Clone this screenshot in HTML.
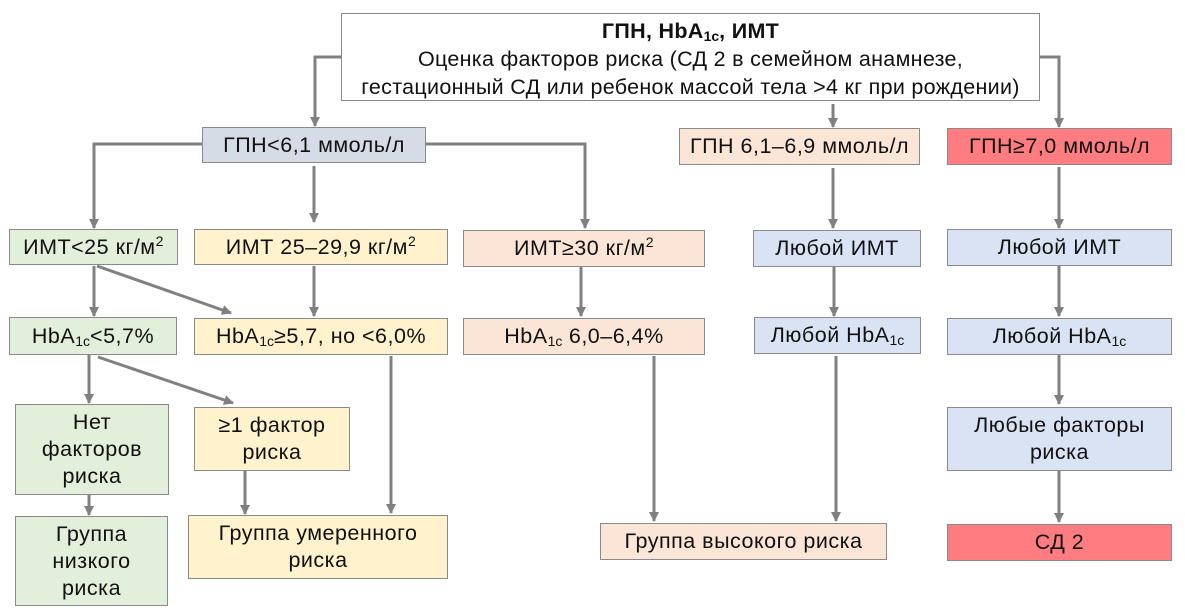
<!DOCTYPE html>
<html><head><meta charset="utf-8">
<style>
body{margin:0;width:1185px;height:612px;background:#fff;position:relative;overflow:hidden;font-family:"Liberation Sans",Arial,sans-serif;color:#111;}
.b{position:absolute;box-sizing:border-box;border:1.5px solid #8a8a8a;display:flex;align-items:center;justify-content:center;text-align:center;font-size:21.5px;line-height:27px;letter-spacing:0.5px;white-space:nowrap;}
sub{font-size:14px;vertical-align:-3px;line-height:0;letter-spacing:0;}
sup{font-size:14px;vertical-align:8px;line-height:0;}
.gr{background:#e2efda}.ye{background:#fff2cc}.pe{background:#fbe5d6}.bl{background:#dae3f3}.rd{background:#ff7c80}.gb{background:#d6dce5}
svg{position:absolute;left:0;top:0}
</style></head><body>
<svg width="1185" height="612">
<defs>
<marker id="h" viewBox="0 0 10 10" markerWidth="12" markerHeight="10" refX="9" refY="5" orient="auto" markerUnits="userSpaceOnUse"><path d="M0,0 L10,5 L0,10 z" fill="#808080"/></marker></defs>
<g stroke="#808080" stroke-width="3" fill="none" marker-end="url(#h)">
<polyline points="341,57 315,57 315,126"/>
<polyline points="1040,57 1059,57 1059,127"/>
<line x1="833" y1="104" x2="833" y2="127"/>
<polyline points="202,144 94,144 94,228"/>
<line x1="314" y1="166" x2="314" y2="222"/>
<polyline points="425,144 585,144 585,228"/>
<line x1="833" y1="168" x2="833" y2="228"/>
<line x1="1059" y1="167" x2="1059" y2="228"/>
<line x1="94" y1="266" x2="94" y2="316"/>
<line x1="97" y1="266" x2="231" y2="313"/>
<line x1="314" y1="266" x2="314" y2="316"/>
<line x1="581" y1="267" x2="581" y2="316"/>
<line x1="834" y1="266" x2="834" y2="316"/>
<line x1="1059" y1="266" x2="1059" y2="316"/>
<line x1="89" y1="355" x2="89" y2="403"/>
<line x1="98" y1="357" x2="233" y2="403"/>
<line x1="391" y1="356" x2="391" y2="513"/>
<line x1="89" y1="495" x2="89" y2="515"/>
<line x1="245" y1="471" x2="245" y2="514"/>
<line x1="654" y1="356" x2="654" y2="521"/>
<line x1="836" y1="356" x2="836" y2="521"/>
<line x1="1059" y1="355" x2="1059" y2="404"/>
<line x1="1059" y1="471" x2="1059" y2="522"/>
</g>
</svg>
<div class="b" style="left:341px;top:13px;width:699px;height:88px;line-height:28px;letter-spacing:0.3px;padding-top:4px;"><div><div style="font-weight:bold">ГПН, HbA<sub>1c</sub>, ИМТ</div><div>Оценка факторов риска (СД 2 в семейном анамнезе,</div><div>гестационный СД или ребенок массой тела &gt;4 кг при рождении)</div></div></div>
<div class="b gb" style="left:202px;top:127px;width:224px;height:36px;"><span>ГПН&lt;6,1 ммоль/л</span></div>
<div class="b pe" style="left:679px;top:128px;width:241px;height:37px;"><span>ГПН 6,1–6,9 ммоль/л</span></div>
<div class="b rd" style="left:947px;top:128px;width:225px;height:37px;"><span>ГПН≥7,0 ммоль/л</span></div>
<div class="b gr" style="left:9px;top:229px;width:169px;height:36px;"><span>ИМТ&lt;25 кг/м<sup>2</sup></span></div>
<div class="b ye" style="left:194px;top:229px;width:254px;height:36px;"><span>ИМТ 25–29,9 кг/м<sup>2</sup></span></div>
<div class="b pe" style="left:463px;top:230px;width:242px;height:37px;"><span>ИМТ≥30 кг/м<sup>2</sup></span></div>
<div class="b bl" style="left:753px;top:230px;width:168px;height:37px;"><span>Любой ИМТ</span></div>
<div class="b bl" style="left:947px;top:229px;width:225px;height:37px;"><span>Любой ИМТ</span></div>
<div class="b gr" style="left:9px;top:317px;width:168px;height:38px;"><span>HbA<sub>1c</sub>&lt;5,7%</span></div>
<div class="b ye" style="left:194px;top:318px;width:254px;height:37px;"><span>HbA<sub>1c</sub>≥5,7, но &lt;6,0%</span></div>
<div class="b pe" style="left:463px;top:318px;width:242px;height:37px;"><span>HbA<sub>1c</sub> 6,0–6,4%</span></div>
<div class="b bl" style="left:754px;top:317px;width:167px;height:37px;"><span>Любой HbA<sub>1c</sub></span></div>
<div class="b bl" style="left:947px;top:318px;width:225px;height:37px;"><span>Любой HbA<sub>1c</sub></span></div>
<div class="b gr" style="left:15px;top:404px;width:154px;height:91px;"><span>Нет<br>факторов<br>риска</span></div>
<div class="b ye" style="left:194px;top:407px;width:156px;height:64px;"><span>≥1 фактор<br>риска</span></div>
<div class="b bl" style="left:947px;top:407px;width:225px;height:64px;"><span>Любые факторы<br>риска</span></div>
<div class="b gr" style="left:15px;top:516px;width:153px;height:90px;"><span>Группа<br>низкого<br>риска</span></div>
<div class="b ye" style="left:188px;top:515px;width:260px;height:64px;"><span>Группа умеренного<br>риска</span></div>
<div class="b pe" style="left:600px;top:523px;width:287px;height:37px;"><span>Группа высокого риска</span></div>
<div class="b rd" style="left:947px;top:524px;width:225px;height:37px;"><span>СД 2</span></div>
</body></html>
